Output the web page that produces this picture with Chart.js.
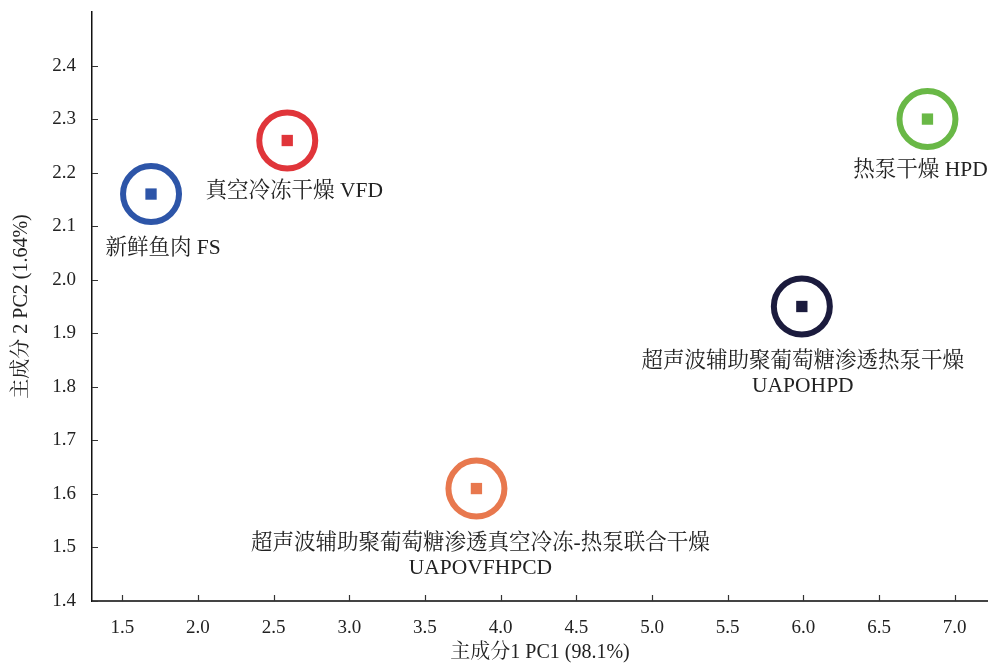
<!DOCTYPE html>
<html>
<head>
<meta charset="utf-8">
<script src="https://cdn.jsdelivr.net/npm/chart.js@4.4.0/dist/chart.umd.min.js"></script>
<style>
  html, body { margin: 0; padding: 0; background: #fff; }
  #wrap { width: 988px; height: 665px; }
</style>
</head>
<body>
<div id="wrap"><canvas id="pcaChart" width="988" height="665"></canvas></div>
<script>
// values
const groups = ['FS', 'VFD', 'HPD', 'UAPOHPD', 'UAPOVFHPCD'];
const pc1 = [1.69, 2.59, 6.82, 5.99, 3.84];
const pc2 = [2.16, 2.26, 2.30, 1.95, 1.61];
const groupLabels = [
    ['新鲜鱼肉 FS'],
    ['真空冷冻干燥 VFD'],
    ['热泵干燥 HPD'],
    ['超声波辅助聚葡萄糖渗透热泵干燥', 'UAPOHPD'],
    ['超声波辅助聚葡萄糖渗透真空冷冻-热泵联合干燥', 'UAPOVFHPCD']
];
const xTicks = [1.5, 2.0, 2.5, 3.0, 3.5, 4.0, 4.5, 5.0, 5.5, 6.0, 6.5, 7.0];
const yTicks = [1.4, 1.5, 1.6, 1.7, 1.8, 1.9, 2.0, 2.1, 2.2, 2.3, 2.4];
const xTitle = '主成分1 PC1 (98.1%)';
const yTitle = '主成分 2 PC2 (1.64%)';

const colors = ['#2d55a8', '#e0353a', '#69b846', '#1b1b3d', '#e8784e'];
const labelOffsets = [[12, 54], [7, 51], [-7, 51], [1, 55], [4, 55]];
const fontFamily = "'Liberation Serif', 'Noto Serif CJK SC', 'Noto Sans CJK SC', serif";

const points = pc1.map((x, i) => ({ x: x, y: pc2[i] }));

// tick marks pointing into the plot, like the original
const innerTicks = {
    id: 'innerTicks',
    afterDraw(chart) {
        const ctx = chart.ctx;
        const area = chart.chartArea;
        const xs = chart.scales.x, ys = chart.scales.y;
        ctx.save();
        ctx.strokeStyle = '#333';
        ctx.lineWidth = 1.2;
        ctx.beginPath();
        xTicks.forEach(v => {
            const px = Math.round(xs.getPixelForValue(v)) + 0.5;
            ctx.moveTo(px, area.bottom);
            ctx.lineTo(px, area.bottom - 6);
        });
        yTicks.forEach(v => {
            const py = Math.round(ys.getPixelForValue(v)) + 0.5;
            ctx.moveTo(area.left, py);
            ctx.lineTo(area.left + 6, py);
        });
        ctx.stroke();
        ctx.restore();
    }
};

const pointLabels = {
    id: 'pointLabels',
    afterDatasetsDraw(chart) {
        const ctx = chart.ctx;
        const xs = chart.scales.x, ys = chart.scales.y;
        ctx.save();
        ctx.fillStyle = '#222';
        ctx.font = '21.5px ' + fontFamily;
        ctx.textAlign = 'center';
        ctx.textBaseline = 'middle';
        groupLabels.forEach((lines, i) => {
            const px = xs.getPixelForValue(pc1[i]) + labelOffsets[i][0];
            const py = ys.getPixelForValue(pc2[i]) + labelOffsets[i][1];
            lines.forEach((t, j) => ctx.fillText(t, px, py + j * 25));
        });
        ctx.restore();
    }
};

let ctx = document.getElementById('pcaChart').getContext('2d');
let pcaChart = new Chart(ctx, {
    type: 'scatter',
    data: {
        datasets: [{
            label: 'rings',
            data: points,
            pointStyle: 'circle',
            pointRadius: 28,
            pointBorderWidth: 6,
            pointBackgroundColor: 'rgba(255,255,255,0)',
            pointBorderColor: colors
        }, {
            label: 'centres',
            data: points,
            pointStyle: 'rect',
            pointRadius: 8,
            pointBorderWidth: 0,
            pointBackgroundColor: colors,
            pointBorderColor: colors
        }]
    },
    options: {
        responsive: false,
        animation: false,
        layout: { autoPadding: false, padding: { top: 12, right: 0, left: 0, bottom: 0 } },
        plugins: {
            legend: { display: false },
            tooltip: { enabled: false }
        },
        scales: {
            x: {
                type: 'linear',
                min: 1.3,
                max: 7.22,
                afterBuildTicks: s => { s.ticks = xTicks.map(v => ({ value: v })); },
                afterFit: s => {
                    s.height = 64;
                    s.paddingLeft = 0;
                    s.paddingRight = 0;
                },
                grid: { display: false, drawTicks: false },
                border: { display: true, color: '#444', width: 2 },
                ticks: {
                    padding: 16,
                    color: '#222',
                    font: { family: fontFamily, size: 19 },
                    callback: v => v.toFixed(1)
                },
                title: {
                    display: true,
                    text: xTitle,
                    color: '#222',
                    font: { family: fontFamily, size: 20 },
                    padding: { top: 8, bottom: 0 }
                }
            },
            y: {
                type: 'linear',
                min: 1.4,
                max: 2.5,
                afterBuildTicks: s => { s.ticks = yTicks.map(v => ({ value: v })); },
                afterFit: s => {
                    s.width = 92;
                    s.paddingTop = 0;
                    s.paddingBottom = 0;
                },
                grid: { display: false, drawTicks: false },
                border: { display: true, color: '#111', width: 1.5 },
                ticks: {
                    padding: 16,
                    color: '#222',
                    font: { family: fontFamily, size: 19 },
                    callback: v => v.toFixed(1)
                },
                title: {
                    display: true,
                    text: yTitle,
                    color: '#222',
                    font: { family: fontFamily, size: 20 },
                    padding: { top: 10, bottom: 0 }
                }
            }
        }
    },
    plugins: [innerTicks, pointLabels]
});
</script>
</body>
</html>
